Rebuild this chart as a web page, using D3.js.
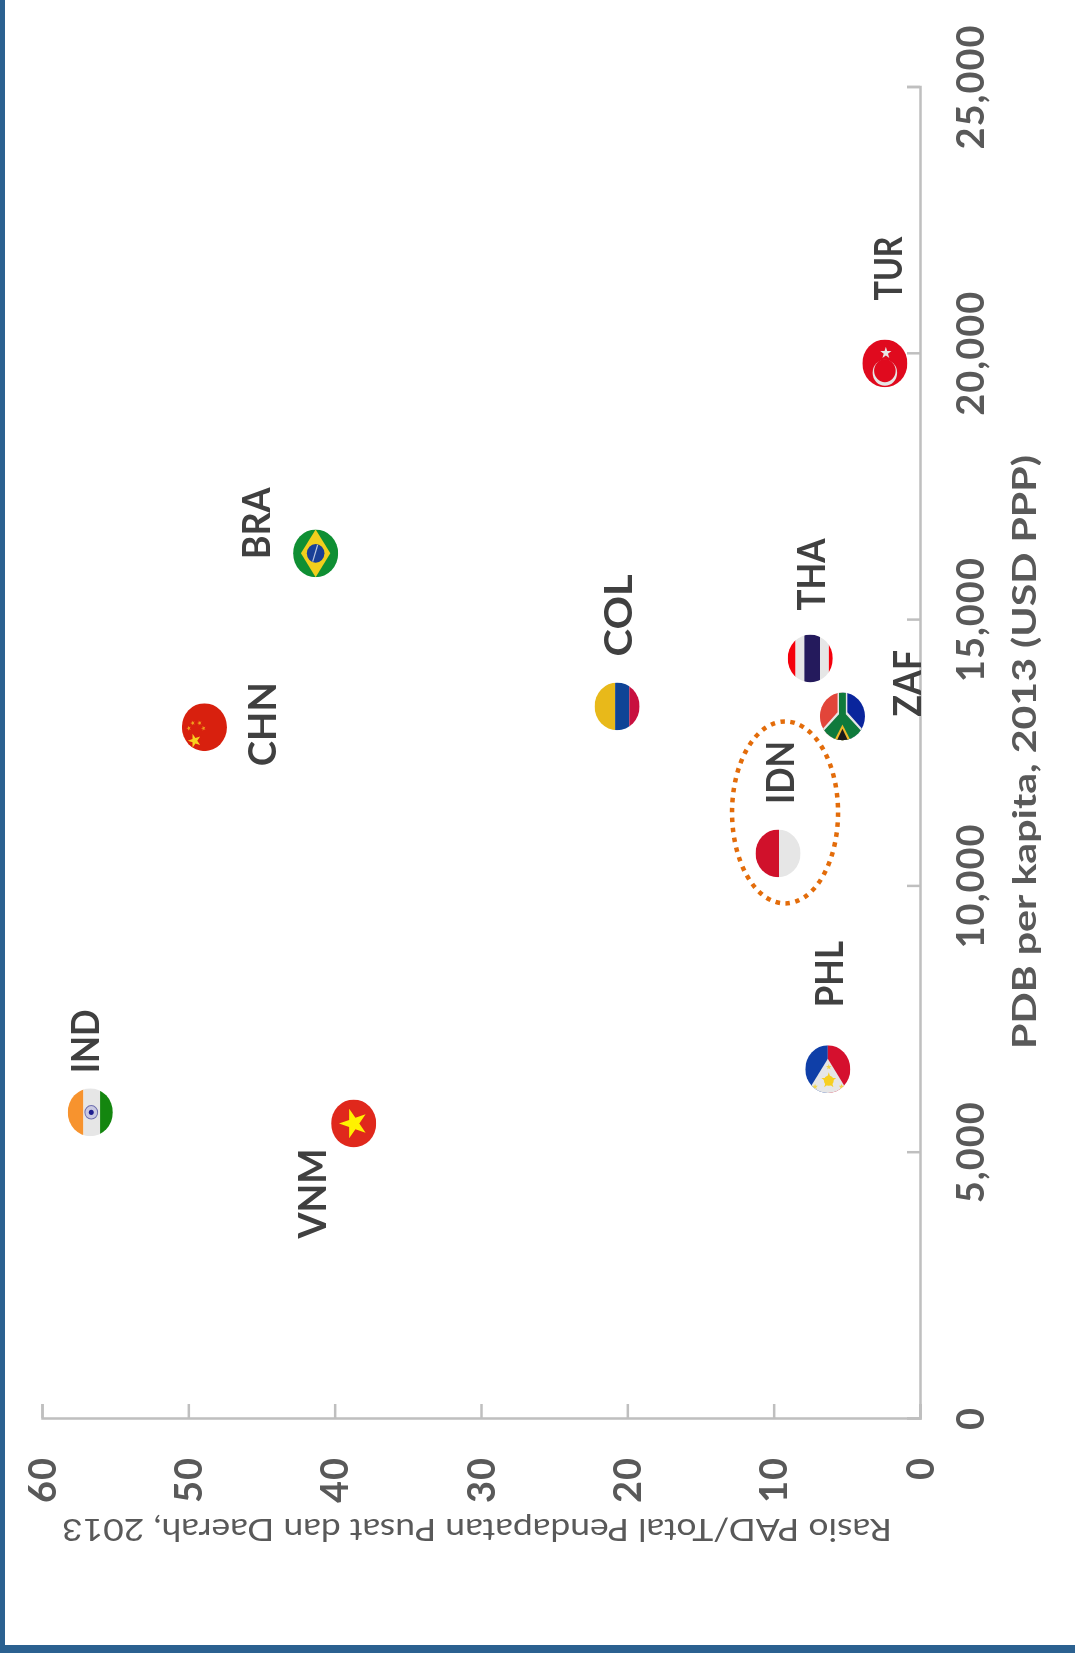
<!DOCTYPE html>
<html lang="id">
<head>
    <meta charset="utf-8">
    <title>Rasio PAD dan PDB per kapita</title>
    <script src="https://cdn.jsdelivr.net/npm/d3@7"></script>
    <style type="text/css">
        html, body { margin: 0; padding: 0; background: #fff; }
        svg { display: block; filter: blur(0.45px); }
        text { font-family: Lato, "Noto Sans", sans-serif; }
        .axis path, .axis line { stroke: #bfbfbf; stroke-width: 2.5; fill: none; }
        .axis text { font-size: 38px; font-weight: 700; fill: #595959; letter-spacing: 1px; }
        .country { font-size: 38px; font-weight: 700; fill: #404040; }
        .title { font-weight: 700; fill: #595959; }
        .title-rasio { font-size: 31px; font-weight: 400; }
        .title-pdb { font-size: 33px; }
    </style>
</head>
<body>
    <script type="text/javascript">

        //Data
        var countries = ["IND", "VNM", "BRA", "CHN", "PHL", "TUR", "COL", "THA", "ZAF", "IDN"];
        var rasioPad  = [56.7, 38.7, 41.3, 48.9, 6.3, 2.4, 20.7, 7.5, 5.3, 9.7];
        var pdbKapita = [5740, 5530, 16235, 12970, 6550, 19800, 13360, 14260, 13175, 10600];
        var rasioTicks = [0, 10, 20, 30, 40, 50, 60];
        var pdbTicks = [0, 5000, 10000, 15000, 20000, 25000];
        var rasioTitle = "Rasio PAD/Total Pendapatan Pusat dan Daerah, 2013";
        var pdbTitle = "PDB per kapita, 2013 (USD PPP)";

        //Layout: label offset from its flag and label length, by country
        var labelLayout = {
            IND: [-5, -71, 64], VNM: [-41, 70, 90], BRA: [-59, -30, 72], CHN: [58, -3, 84],
            PHL: [2, -95, 66], TUR: [3, -95, 64], COL: [1, -91, 82], THA: [1, -84, 72],
            ZAF: [65, -33, 67], IDN: [2, -81, 63]
        };

        var w = 1075;
        var h = 1653;
        var frameColor = "#2b6190";

        var svg = d3.select("body").append("svg")
            .attr("width", w)
            .attr("height", h);

        svg.append("rect").attr("width", 5).attr("height", h).attr("fill", frameColor);
        svg.append("rect").attr("y", 1645).attr("width", w).attr("height", 8).attr("fill", frameColor);

        //The whole chart is turned on its side: ratio runs right to left, GDP runs upward
        var x = d3.scaleLinear().domain([0, 60]).range([920, 42]);
        var y = d3.scaleLinear().domain([0, 25000]).range([1418, 86.5]);

        var xAxis = svg.append("g")
            .attr("class", "axis")
            .attr("transform", "translate(0,1418)")
            .call(d3.axisTop(x).tickValues(rasioTicks).tickSize(14).tickSizeOuter(14).tickFormat(d3.format("d")));

        xAxis.selectAll("text")
            .attr("text-anchor", "end")
            .attr("dy", null)
            .attr("y", null)
            .attr("x", null)
            .attr("transform", "translate(0,39) rotate(-90) translate(0,13)");

        var yAxis = svg.append("g")
            .attr("class", "axis")
            .attr("transform", "translate(920,0)")
            .call(d3.axisLeft(y).tickValues(pdbTicks).tickSize(13).tickSizeOuter(13).tickFormat(d3.format(",")));

        yAxis.selectAll("text")
            .attr("text-anchor", "middle")
            .attr("y", null)
            .attr("x", null)
            .attr("transform", "translate(50,0) rotate(-90)")
            .attr("dy", "0.36em");

        //Axis titles
        svg.append("text")
            .attr("class", "title title-rasio")
            .attr("text-anchor", "middle")
            .attr("textLength", 830)
            .attr("lengthAdjust", "spacingAndGlyphs")
            .attr("transform", "translate(477,1519) rotate(180)")
            .text(rasioTitle);

        svg.append("text")
            .attr("class", "title title-pdb")
            .attr("text-anchor", "middle")
            .attr("textLength", 594)
            .attr("lengthAdjust", "spacingAndGlyphs")
            .attr("transform", "translate(1036,752) rotate(-90)")
            .text(pdbTitle);

        //Flag painters, drawn in a circle of radius r around the origin
        var r = 23;
        var white = "#e6e6e6";

        function band(g, color, x0, x1) {
            g.append("rect").attr("x", x0).attr("y", -r).attr("width", x1 - x0).attr("height", 2 * r).attr("fill", color);
        }
        function poly(g, color, pts) {
            g.append("polygon").attr("points", pts.join(" ")).attr("fill", color);
        }
        function star(g, color, cx, cy, radius, angle) {
            g.append("path")
                .attr("d", d3.symbol().type(d3.symbolStar).size(radius * radius / 0.89)())
                .attr("transform", "translate(" + cx + "," + cy + ") rotate(" + angle + ")")
                .attr("fill", color);
        }

        var flags = {
            IND: function(g) {
                band(g, "#f7932e", -r, -7);
                band(g, white, -7, 10);
                band(g, "#14860f", 10, r);
                g.append("circle").attr("cx", 1).attr("r", 6.5).attr("fill", "#c9c9e2").attr("stroke", "#6f6fb0").attr("stroke-width", 1);
                g.append("circle").attr("cx", 1).attr("r", 2.5).attr("fill", "#1d1d8f");
            },
            VNM: function(g) {
                band(g, "#e0281c", -r, r);
                star(g, "#fff200", 0, 0, 15, -90);
            },
            BRA: function(g) {
                band(g, "#0f8f33", -r, r);
                poly(g, "#f2cf1d", [[-15, 0], [0, -23], [15, 0], [0, 23]]);
                g.append("circle").attr("r", 9).attr("fill", "#1a3f96");
                g.append("line").attr("x1", -3).attr("y1", 8).attr("x2", 2).attr("y2", -8).attr("stroke", "#b9c6e0").attr("stroke-width", 1.2);
            },
            CHN: function(g) {
                band(g, "#d8200e", -r, r);
                star(g, "#f7d21e", -10, 13, 7, -90);
                [[-16, 1], [-12, -4], [-5, -4], [-1, 1]].forEach(function(p) {
                    star(g, "#f0a01e", p[0], p[1], 2.5, -90);
                });
            },
            PHL: function(g) {
                band(g, "#0f3fa8", -r, 0);
                band(g, "#d5102e", 0, r);
                poly(g, white, [[0, -10], [-26, 30], [26, 30]]);
                star(g, "#f7cf20", 1, 11, 8, 0);
                g.append("circle").attr("cx", 1).attr("cy", 11).attr("r", 5).attr("fill", "#f7cf20");
                [[1, -2], [-13, 17], [14, 17]].forEach(function(p) {
                    star(g, "#f2d648", p[0], p[1], 3, 0);
                });
            },
            TUR: function(g) {
                band(g, "#e00a1e", -r, r);
                star(g, white, 1, -10, 6, 0);
                g.append("circle").attr("cy", 9).attr("r", 12.5).attr("fill", white);
                g.append("circle").attr("cy", 7).attr("r", 11).attr("fill", "#e00a1e");
            },
            COL: function(g) {
                band(g, "#e8b91a", -r, -2);
                band(g, "#0f4496", -2, 12.5);
                band(g, "#c8103f", 12.5, r);
            },
            THA: function(g) {
                band(g, "#f5000c", -r, -15);
                band(g, white, -15, -6);
                band(g, "#241a5c", -6, 10);
                band(g, white, 10, 19);
                band(g, "#f5000c", 19, r);
            },
            ZAF: function(g) {
                band(g, "#e2453a", -r, 0);
                band(g, "#0a259c", 0, r);
                poly(g, white, [[-5, -r], [5, -r], [5, -4], [23, 15], [23, 30], [-23, 30], [-23, 15], [-5, -4]]);
                poly(g, "#0f7a3c", [[-3.5, -r], [3.5, -r], [3.5, -2], [23, 18], [23, 30], [-23, 30], [-23, 18], [-3.5, -2]]);
                poly(g, "#f0b92a", [[0, 8], [12, 30], [-12, 30]]);
                poly(g, "#1b1b1b", [[0, 12], [9, 30], [-9, 30]]);
            },
            IDN: function(g) {
                band(g, "#d0112b", -r, 1);
                band(g, white, 1, r);
            }
        };

        var defs = svg.append("defs");
        defs.append("clipPath").attr("id", "flag-clip")
            .append("circle").attr("r", r);

        //Bind one group per country, placed through the scales
        var points = countries.map(function(c, i) {
            return { code: c, rasio: rasioPad[i], pdb: pdbKapita[i] };
        });

        var flag = svg.selectAll("g.flag")
            .data(points)
            .enter()
            .append("g")
            .attr("class", "flag")
            .attr("transform", function(d) {
                return "translate(" + x(d.rasio) + "," + y(d.pdb) + ") scale(0.98,1.04)";
            })
            .append("g")
            .attr("clip-path", "url(#flag-clip)")
            .each(function(d) { flags[d.code](d3.select(this)); });

        svg.selectAll("text.country")
            .data(points)
            .enter()
            .append("text")
            .attr("class", "country")
            .attr("text-anchor", "middle")
            .attr("dy", "0.36em")
            .attr("textLength", function(d) { return labelLayout[d.code][2]; })
            .attr("lengthAdjust", "spacingAndGlyphs")
            .attr("transform", function(d) {
                var o = labelLayout[d.code];
                return "translate(" + (x(d.rasio) + o[0]) + "," + (y(d.pdb) + o[1]) + ") rotate(-90)";
            })
            .text(function(d) { return d.code; });

        //Dotted ring around Indonesia
        var idn = points[countries.indexOf("IDN")];
        svg.append("ellipse")
            .attr("cx", x(idn.rasio) + 7)
            .attr("cy", y(idn.pdb) - 41)
            .attr("rx", 53)
            .attr("ry", 91)
            .attr("fill", "none")
            .attr("stroke", "#e36c0a")
            .attr("stroke-width", 4.5)
            .attr("stroke-dasharray", "4.5,5.5");

    </script>
</body>
</html>
